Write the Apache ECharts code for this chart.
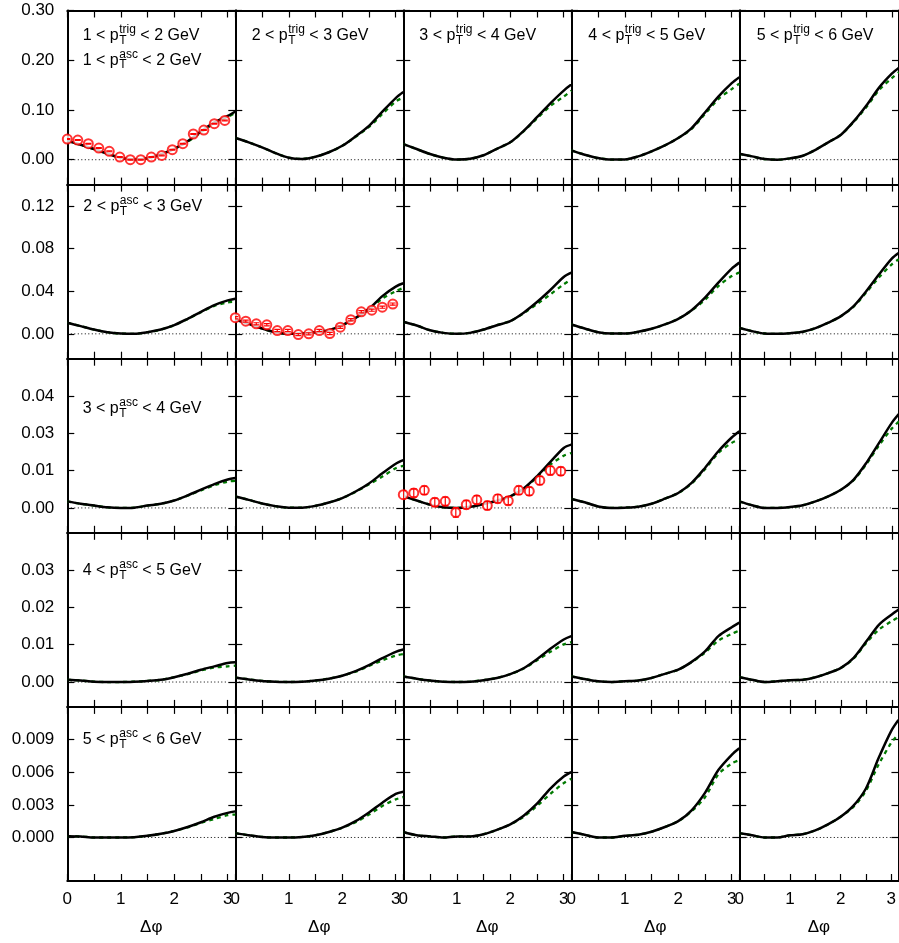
<!DOCTYPE html>
<html><head><meta charset="utf-8">
<script src="https://cdn.jsdelivr.net/npm/echarts@6/dist/echarts.min.js"></script>
<style>html,body{margin:0;padding:0;background:#fff}#chart{width:899px;height:943px}</style>
</head><body><div id="chart"></div>
<script>
// ---------------- data ----------------
const dphi = [0, 0.25, 0.5, 0.75, 1.0, 1.25, 1.5, 1.75, 2.0, 2.25, 2.5, 2.75, 3.0, 3.1416];
const zeroLineX = [0, 3.0];

// row 1 (1<pT_asc<2)
const solid11 = [0.038, 0.030, 0.0215, 0.012, 0.004, 0.0005, 0.003, 0.011, 0.022, 0.037, 0.057, 0.075, 0.088, 0.097];
const dashed11 = [0.038, 0.030, 0.0215, 0.012, 0.004, 0.0005, 0.003, 0.011, 0.022, 0.036, 0.055, 0.073, 0.086, 0.094];
const solid12 = [0.0437, 0.035, 0.0248, 0.0134, 0.004, 0.0015, 0.006, 0.015, 0.028, 0.047, 0.068, 0.0966, 0.124, 0.136];
const dashed12 = [0.0437, 0.035, 0.0248, 0.0134, 0.004, 0.0015, 0.006, 0.015, 0.028, 0.046, 0.066, 0.092, 0.117, 0.125];
const solid13 = [0.0315, 0.0215, 0.0114, 0.004, 0.0003, 0.002, 0.009, 0.022, 0.035, 0.058, 0.0855, 0.1134, 0.139, 0.151];
const dashed13 = [0.0315, 0.0215, 0.0114, 0.004, 0.0003, 0.002, 0.009, 0.022, 0.035, 0.057, 0.083, 0.108, 0.127, 0.139];
const solid14 = [0.0187, 0.010, 0.0034, 0.0003, 0.0005, 0.0067, 0.0168, 0.0288, 0.0436, 0.0637, 0.095, 0.127, 0.154, 0.166];
const dashed14 = [0.0187, 0.010, 0.0034, 0.0003, 0.0005, 0.0067, 0.0168, 0.0288, 0.0436, 0.062, 0.092, 0.122, 0.142, 0.153];
const solid15 = [0.012, 0.0067, 0.0014, 0.0, 0.0027, 0.008, 0.020, 0.035, 0.0503, 0.077, 0.109, 0.145, 0.173, 0.185];
const dashed15 = [0.012, 0.0067, 0.0014, 0.0, 0.0027, 0.008, 0.020, 0.035, 0.0503, 0.076, 0.106, 0.140, 0.164, 0.176];
// row 2
const solid21 = [0.0104, 0.0072, 0.004, 0.0015, 0.0003, 0.0, 0.0015, 0.004, 0.0081, 0.0141, 0.0207, 0.027, 0.0314, 0.033];
const dashed21 = [0.0104, 0.0072, 0.004, 0.0015, 0.0003, 0.0, 0.0015, 0.004, 0.0081, 0.0139, 0.0203, 0.0262, 0.0295, 0.030];
const solid22 = [0.0135, 0.0094, 0.005, 0.0015, 0.0, 0.0003, 0.0015, 0.0034, 0.0081, 0.015, 0.0235, 0.0354, 0.0443, 0.0474];
const dashed22 = [0.0135, 0.0094, 0.005, 0.0015, 0.0, 0.0003, 0.0015, 0.0034, 0.0081, 0.0147, 0.023, 0.033, 0.040, 0.043];
const solid23 = [0.0113, 0.0078, 0.0034, 0.0009, 0.0, 0.0009, 0.004, 0.0081, 0.0119, 0.0198, 0.0298, 0.0411, 0.0533, 0.0574];
const dashed23 = [0.0113, 0.0078, 0.0034, 0.0009, 0.0, 0.0009, 0.004, 0.0081, 0.0119, 0.0193, 0.028, 0.037, 0.0464, 0.0511];
const solid24 = [0.0088, 0.005, 0.0015, 0.0003, 0.0003, 0.0019, 0.0047, 0.0088, 0.0141, 0.0222, 0.0339, 0.048, 0.0612, 0.0668];
const dashed24 = [0.0088, 0.005, 0.0015, 0.0003, 0.0003, 0.0019, 0.0047, 0.0088, 0.0141, 0.0218, 0.032, 0.0448, 0.0542, 0.0574];
const solid25 = [0.0056, 0.0025, 0.0003, 0.0, 0.0006, 0.0019, 0.0053, 0.0104, 0.0166, 0.026, 0.0401, 0.0558, 0.0706, 0.076];
const dashed25 = [0.0056, 0.0025, 0.0003, 0.0, 0.0006, 0.0019, 0.0053, 0.0104, 0.0166, 0.0255, 0.039, 0.053, 0.0652, 0.070];
// row 3
const solid31 = [0.0022, 0.0014, 0.0008, 0.0002, 0.0, 0.0001, 0.0008, 0.0014, 0.0025, 0.0042, 0.0061, 0.008, 0.0095, 0.010];
const dashed31 = [0.0022, 0.0014, 0.0008, 0.0002, 0.0, 0.0001, 0.0008, 0.0014, 0.0025, 0.0041, 0.0059, 0.0076, 0.0088, 0.0091];
const solid32 = [0.0038, 0.0027, 0.0015, 0.0006, 0.0001, 0.0001, 0.0007, 0.0018, 0.0033, 0.0055, 0.0082, 0.0116, 0.0148, 0.0160];
const dashed32 = [0.0038, 0.0027, 0.0015, 0.0006, 0.0001, 0.0001, 0.0007, 0.0018, 0.0033, 0.0054, 0.0079, 0.0105, 0.0133, 0.0141];
const solid33 = [0.0039, 0.0025, 0.0011, 0.0002, 0.0, 0.0004, 0.0013, 0.0024, 0.0039, 0.0065, 0.0106, 0.0154, 0.0201, 0.0212];
const dashed33 = [0.0039, 0.0025, 0.0011, 0.0002, 0.0, 0.0004, 0.0013, 0.0024, 0.0039, 0.0063, 0.0103, 0.0145, 0.0175, 0.0184];
const solid34 = [0.003, 0.0019, 0.0005, 0.0, 0.0001, 0.0004, 0.0014, 0.0031, 0.005, 0.0084, 0.0134, 0.019, 0.0236, 0.0257];
const dashed34 = [0.003, 0.0019, 0.0005, 0.0, 0.0001, 0.0004, 0.0014, 0.0031, 0.005, 0.0082, 0.013, 0.0184, 0.0218, 0.0229];
const solid35 = [0.0022, 0.0009, 0.0, 0.0, 0.0003, 0.0009, 0.0022, 0.0039, 0.0061, 0.0095, 0.0151, 0.0218, 0.0285, 0.0315];
const dashed35 = [0.0022, 0.0009, 0.0, 0.0, 0.0003, 0.0009, 0.0022, 0.0039, 0.0061, 0.0093, 0.0147, 0.021, 0.0266, 0.029];
// row 4
const solid41 = [0.0006, 0.0004, 0.0001, 0.0, 0.0, 0.0001, 0.0003, 0.0006, 0.0013, 0.0022, 0.0033, 0.0042, 0.0051, 0.0053];
const dashed41 = [0.0006, 0.0004, 0.0001, 0.0, 0.0, 0.0001, 0.0003, 0.0006, 0.0013, 0.0021, 0.0031, 0.0039, 0.0042, 0.0044];
const solid42 = [0.0012, 0.0007, 0.0003, 0.0001, 0.0, 0.0001, 0.0004, 0.0009, 0.0017, 0.0029, 0.0045, 0.0064, 0.0081, 0.0087];
const dashed42 = [0.0012, 0.0007, 0.0003, 0.0001, 0.0, 0.0001, 0.0004, 0.0009, 0.0017, 0.0028, 0.0043, 0.0058, 0.0071, 0.0075];
const solid43 = [0.0015, 0.0009, 0.0004, 0.0001, 0.0, 0.0001, 0.0005, 0.0011, 0.0021, 0.0037, 0.0061, 0.0089, 0.0114, 0.0123];
const dashed43 = [0.0015, 0.0009, 0.0004, 0.0001, 0.0, 0.0001, 0.0005, 0.0011, 0.0021, 0.0036, 0.0058, 0.0081, 0.0101, 0.0107];
const solid44 = [0.0015, 0.0008, 0.0002, 0.0, 0.0002, 0.0004, 0.0011, 0.0022, 0.0033, 0.0054, 0.0082, 0.0123, 0.0147, 0.0159];
const dashed44 = [0.0015, 0.0008, 0.0002, 0.0, 0.0002, 0.0004, 0.0011, 0.0022, 0.0033, 0.0053, 0.0079, 0.0111, 0.0129, 0.0138];
const solid45 = [0.0013, 0.0006, 0.0, 0.0002, 0.0005, 0.0006, 0.0013, 0.0024, 0.0038, 0.0065, 0.0109, 0.0154, 0.0181, 0.0195];
const dashed45 = [0.0013, 0.0006, 0.0, 0.0002, 0.0005, 0.0006, 0.0013, 0.0024, 0.0038, 0.0063, 0.0105, 0.0141, 0.0163, 0.0175];
// row 5
const solid51 = [0.00012, 0.0001, 0.0, 0.0, 0.0, 0.00003, 0.00015, 0.00034, 0.0006, 0.00096, 0.0014, 0.0019, 0.00226, 0.0024];
const dashed51 = [0.00012, 0.0001, 0.0, 0.0, 0.0, 0.00003, 0.00015, 0.00034, 0.0006, 0.00093, 0.00135, 0.0017, 0.00205, 0.0021];
const solid52 = [0.0004, 0.0002, 0.00005, 0.0, 0.0, 0.00005, 0.0002, 0.0005, 0.0009, 0.0015, 0.0023, 0.0032, 0.0040, 0.0042];
const dashed52 = [0.0004, 0.0002, 0.00005, 0.0, 0.0, 0.00005, 0.0002, 0.0005, 0.0009, 0.0014, 0.0021, 0.0029, 0.0035, 0.0037];
const solid53 = [0.0005, 0.0002, 0.0001, 0.0, 0.0001, 0.0001, 0.0003, 0.0007, 0.0012, 0.002, 0.0031, 0.0045, 0.0056, 0.006];
const dashed53 = [0.0005, 0.0002, 0.0001, 0.0, 0.0001, 0.0001, 0.0003, 0.0007, 0.0012, 0.0019, 0.0029, 0.004, 0.005, 0.0054];
const solid54 = [0.0005, 0.00025, 0.0, 0.0, 0.00015, 0.00025, 0.00053, 0.00096, 0.0015, 0.0025, 0.0041, 0.0062, 0.0076, 0.0082];
const dashed54 = [0.0005, 0.00025, 0.0, 0.0, 0.00015, 0.00025, 0.00053, 0.00096, 0.0015, 0.0024, 0.0037, 0.0058, 0.0068, 0.0071];
const solid55 = [0.0004, 0.0002, 0.0, 0.0, 0.0002, 0.0003, 0.00065, 0.0012, 0.0019, 0.0029, 0.0045, 0.0073, 0.0098, 0.0108];
const dashed55 = [0.0004, 0.0002, 0.0, 0.0, 0.0002, 0.0003, 0.00065, 0.0012, 0.0019, 0.0028, 0.0043, 0.0067, 0.0087, 0.0095];

// measured data points (diagonal panels)
const dataX = [0, 0.196, 0.393, 0.589, 0.785, 0.982, 1.178, 1.374, 1.571, 1.767, 1.963, 2.160, 2.356, 2.553, 2.749, 2.945];
const data11 = [0.0416, 0.0396, 0.0322, 0.0235, 0.0168, 0.0054, 0.0, 0.0, 0.0054, 0.0087, 0.0201, 0.0322, 0.0517, 0.0597, 0.0724, 0.0791];
const err11  = [0.0008, 0.0008, 0.0008, 0.0008, 0.0008, 0.0008, 0.0008, 0.0008, 0.0008, 0.0008, 0.0008, 0.0008, 0.0008, 0.0008, 0.0008, 0.0008];
const data22 = [0.0151, 0.0119, 0.0094, 0.0085, 0.0031, 0.0031, -0.0007, 0.0, 0.0031, 0.0003, 0.0062, 0.0132, 0.0207, 0.0222, 0.025, 0.0279];
const err22  = [0.001, 0.001, 0.001, 0.001, 0.001, 0.001, 0.001, 0.001, 0.001, 0.001, 0.001, 0.001, 0.001, 0.001, 0.001, 0.001];
const data33 = [0.00445, 0.005, 0.0059, 0.0019, 0.0022, -0.0015, 0.0011, 0.0027, 0.0008, 0.0031, 0.0024, 0.0059, 0.0056, 0.0092, 0.0125, 0.0123];
const err33  = [0.0014, 0.0014, 0.0014, 0.0014, 0.0014, 0.0016, 0.0014, 0.0014, 0.0014, 0.0014, 0.0014, 0.0014, 0.0014, 0.0014, 0.0014, 0.0014];

// axis ranges and ticks
const yMin = [-0.05, -0.023333, -0.0083333, -0.0066667, -0.004];
const yMax = [0.30, 0.14, 0.05, 0.04, 0.012];
const yTickVals = [[0, 0.1, 0.2, 0.3], [0, 0.04, 0.08, 0.12], [0, 0.0125, 0.025, 0.0375], [0, 0.01, 0.02, 0.03], [0, 0.003, 0.006, 0.009]];
const yTickLabels = [["0.00", "0.10", "0.20", "0.30"], ["0.00", "0.04", "0.08", "0.12"], ["0.00", "0.01", "0.03", "0.04"], ["0.00", "0.01", "0.02", "0.03"], ["0.000", "0.003", "0.006", "0.009"]];
const xTickVals = [0, 0.5, 1.0, 1.5, 2.0, 2.5, 3.0];
const xLabelVals = [0, 1, 2, 3];
const xLabelText = ["0", "1", "2", "3"];
const trigLo = [1, 2, 3, 4, 5], trigHi = [2, 3, 4, 5, 6];
const ascLo = [1, 2, 3, 4, 5], ascHi = [2, 3, 4, 5, 6];
const xTitle = "Δφ";

const solids = [[solid11, solid12, solid13, solid14, solid15], [solid21, solid22, solid23, solid24, solid25], [solid31, solid32, solid33, solid34, solid35], [solid41, solid42, solid43, solid44, solid45], [solid51, solid52, solid53, solid54, solid55]];
const dasheds = [[dashed11, dashed12, dashed13, dashed14, dashed15], [dashed21, dashed22, dashed23, dashed24, dashed25], [dashed31, dashed32, dashed33, dashed34, dashed35], [dashed41, dashed42, dashed43, dashed44, dashed45], [dashed51, dashed52, dashed53, dashed54, dashed55]];
const measured = { '0_0': [data11, err11], '1_1': [data22, err22], '2_2': [data33, err33] };

// ---------------- layout ----------------
const FONT = '"Liberation Sans", Arial, Helvetica, sans-serif';
const G_LEFT = 67.3, G_W = 168, G_TOP = 10.5, G_H = 174.1;
const mctx = document.createElement('canvas').getContext('2d');
function tw(t, size) { mctx.font = size + 'px ' + FONT; return mctx.measureText(t).width; }

const grids = [], xAxes = [], yAxes = [], series = [];
const tickStyle = { color: '#000', width: 1.2 };
const lineStyleAxis = { color: '#000', width: 2 };

for (let r = 0; r < 5; r++) {
  for (let c = 0; c < 5; c++) {
    const k = r * 5 + c;
    grids.push({ left: G_LEFT + c * G_W, top: G_TOP + r * G_H, width: G_W, height: G_H });
    const fmtX = v => { const i = xLabelVals.findIndex(t => Math.abs(t - v) < 1e-9); return i >= 0 ? xLabelText[i] : ''; };
    const fmtY = v => { const i = yTickVals[r].findIndex(t => Math.abs(t - v) < 1e-9); return i >= 0 ? yTickLabels[r][i] : ''; };
    xAxes.push({
      type: 'value', gridIndex: k, position: 'bottom', min: 0, max: Math.PI,
      axisLine: { show: true, onZero: false, lineStyle: lineStyleAxis },
      axisTick: { show: true, inside: true, length: 7, customValues: xTickVals, lineStyle: tickStyle },
      axisLabel: { show: r === 4, customValues: xLabelVals, formatter: fmtX, color: '#000', fontSize: 17, fontFamily: FONT, margin: 10 },
      splitLine: { show: false },
      name: r === 4 ? xTitle : '', nameLocation: 'middle', nameGap: 38,
      nameTextStyle: { color: '#000', fontSize: 17, fontFamily: FONT }
    });
    xAxes.push({
      type: 'value', gridIndex: k, position: 'top', min: 0, max: Math.PI,
      axisLine: { show: true, onZero: false, lineStyle: lineStyleAxis },
      axisTick: { show: true, inside: true, length: 7, customValues: xTickVals, lineStyle: tickStyle },
      axisLabel: { show: false }, splitLine: { show: false }
    });
    yAxes.push({
      type: 'value', gridIndex: k, position: 'left', min: yMin[r], max: yMax[r],
      axisLine: { show: true, onZero: false, lineStyle: lineStyleAxis },
      axisTick: { show: true, inside: true, length: 7, customValues: yTickVals[r], lineStyle: tickStyle },
      axisLabel: { show: c === 0, customValues: yTickVals[r], formatter: fmtY, color: '#000', fontSize: 17, fontFamily: FONT, margin: 13 },
      splitLine: { show: false }
    });
    yAxes.push({
      type: 'value', gridIndex: k, position: 'right', min: yMin[r], max: yMax[r],
      axisLine: { show: true, onZero: false, lineStyle: lineStyleAxis },
      axisTick: { show: true, inside: true, length: 7, customValues: yTickVals[r], lineStyle: tickStyle },
      axisLabel: { show: false }, splitLine: { show: false }
    });
    const xi = 2 * k, yi = 2 * k;
    series.push({
      type: 'line', xAxisIndex: xi, yAxisIndex: yi, silent: true, symbol: 'none', z: 2,
      data: zeroLineX.map(x => [x, 0]),
      lineStyle: { color: '#000', width: 1, type: [1, 2.5] }
    });
    series.push({
      type: 'line', xAxisIndex: xi, yAxisIndex: yi, silent: true, symbol: 'none', z: 3,
      smooth: 0.3,
      data: dphi.map((x, i) => [x, dasheds[r][c][i]]),
      lineStyle: { color: '#007a00', width: 2.3, type: [4, 4] }
    });
    series.push({
      type: 'line', xAxisIndex: xi, yAxisIndex: yi, silent: true, symbol: 'none', z: 4,
      smooth: 0.3,
      data: dphi.map((x, i) => [x, solids[r][c][i]]),
      lineStyle: { color: '#000', width: 2.5 }
    });
    const m = measured[r + '_' + c];
    if (m) {
      series.push({
        type: 'scatter', xAxisIndex: xi, yAxisIndex: yi, silent: true, z: 5,
        symbol: 'emptyCircle', symbolSize: 9,
        data: dataX.map((x, i) => [x, m[0][i]]),
        itemStyle: { color: '#ff0000', borderWidth: 1.4, borderColor: '#ff0000' }
      });
      series.push({
        type: 'custom', xAxisIndex: xi, yAxisIndex: yi, silent: true, z: 6, clip: true,
        data: dataX.map((x, i) => [x, m[0][i] - m[1][i], m[0][i] + m[1][i]]),
        encode: { x: 0, y: [1, 2] },
        renderItem: (params, api) => {
          const x = api.value(0);
          const p1 = api.coord([x, api.value(2)]);
          const p2 = api.coord([x, api.value(1)]);
          const hw = 3;
          const st = { stroke: '#ff0000', lineWidth: 1.2 };
          return { type: 'group', children: [
            { type: 'line', shape: { x1: p1[0], y1: p1[1], x2: p2[0], y2: p2[1] }, style: st },
            { type: 'line', shape: { x1: p1[0] - hw, y1: p1[1], x2: p1[0] + hw, y2: p1[1] }, style: st },
            { type: 'line', shape: { x1: p2[0] - hw, y1: p2[1], x2: p2[0] + hw, y2: p2[1] }, style: st }
          ] };
        }
      });
    }
  }
}

// ---------------- panel labels ----------------
const graphics = [];
function midOff(sz) { return 0.3465 * sz; }
function makeLabel(x, base, lo, hi, sup) {
  const s1 = lo + ' < p';
  const w1 = tw(s1, 16);
  const wsup = tw(sup, 12), wsub = tw('T', 12);
  const x2 = x + w1 + Math.max(wsup, wsub) + 0.5;
  const mk = (t, xx, yy, sz) => ({ type: 'text', x: xx, y: yy, silent: true, z: 100,
    style: { text: t, font: sz + 'px ' + FONT, fill: '#000', align: 'left', verticalAlign: 'middle' } });
  graphics.push(mk(s1, x, base - midOff(16), 16));
  graphics.push(mk(sup, x + w1 + 0.5, base - 7 - midOff(12), 12));
  graphics.push(mk('T', x + w1 + 0.5, base + 3.5 - midOff(12), 12));
  graphics.push(mk(' < ' + hi + ' GeV', x2, base - midOff(16), 16));
}
const trigLabelX = [82.7, 251.7, 419.3, 588.3, 756.7];
const ascLabelX = [82.7, 83.3, 82.7, 82.7, 82.7];
const ascBase = [65.7, 212.3, 414.3, 576, 745];
for (let c = 0; c < 5; c++) makeLabel(trigLabelX[c], 41.3, trigLo[c], trigHi[c], 'trig');
for (let r = 0; r < 5; r++) makeLabel(ascLabelX[r], ascBase[r], ascLo[r], ascHi[r], 'asc');

const chart = echarts.init(document.getElementById('chart'), null, { renderer: 'canvas' });
chart.setOption({
  backgroundColor: '#fff', animation: false,
  grid: grids, xAxis: xAxes, yAxis: yAxes, series: series, graphic: graphics
});
</script></body></html>
